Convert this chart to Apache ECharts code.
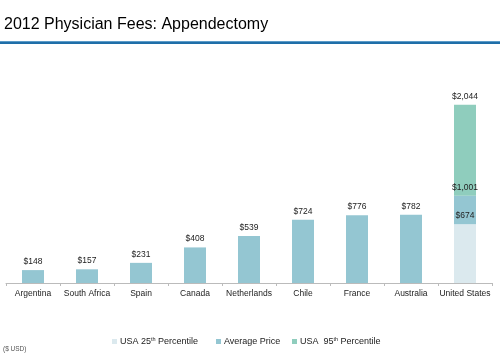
<!DOCTYPE html>
<html><head><meta charset="utf-8">
<script src="https://cdn.jsdelivr.net/npm/echarts@6/dist/echarts.min.js"></script>
<style>html,body{margin:0;padding:0;background:#fff}#c{width:500px;height:357px}</style>
</head><body><div id="c"></div>
<script>
const categories = ['Argentina','South Africa','Spain','Canada','Netherlands','Chile','France','Australia','United States'];
const averagePrice = [148,157,231,408,539,724,776,782,1001];
const usa25th = 674;
const usa95th = 2044;
const seriesNames = ['USA 25th Percentile','Average Price','USA  95th Percentile'];

const n = categories.length;
const usIdx = n - 1;
const s25 = categories.map((c,i)=> i===usIdx ? usa25th : null);
const sAvg = averagePrice.map((v,i)=> i===usIdx ? v - usa25th : v);
const s95 = categories.map((c,i)=> i===usIdx ? usa95th - averagePrice[usIdx] : null);
const totals25 = categories.map((c,i)=> i===usIdx ? usa25th : null);
const totalsAvg = averagePrice.slice();
const totals95 = categories.map((c,i)=> i===usIdx ? usa95th : null);

const fmt = v => '$' + v.toLocaleString('en-US');
const lbl = (tot) => ({show:true, position:'top', distance:4, color:'#222', fontSize:8.5, fontFamily:'Liberation Sans, Arial',
  formatter: p => tot[p.dataIndex]==null ? '' : fmt(tot[p.dataIndex])});

const colors = ['#dbe9ee','#94c6d2','#8fcdbd'];
const rich = {sup:{fontSize:5.5, verticalAlign:'top', padding:[0,0,5,0], color:'#222', fontFamily:'Liberation Sans, Arial'}};
const legendText = {
  'USA 25th Percentile':'USA 25{sup|th} Percentile',
  'Average Price':'Average Price{sup| }',
  'USA  95th Percentile':'USA  95{sup|th} Percentile'
};
const mkLegend = (name, left) => ({
  data:[name], left:left, top:331, icon:'rect', itemWidth:5, itemHeight:5, itemGap:0,
  textStyle:{fontSize:9, color:'#222', fontFamily:'Liberation Sans, Arial', padding:[0,0,0,-2], rich:rich},
  formatter: nm => legendText[nm], selectedMode:false
});

const chart = echarts.init(document.getElementById('c'), null, {renderer:'canvas'});
chart.setOption({
  animation:false,
  color: colors,
  title:{text:'2012 Physician Fees: Appendectomy', left:-1, top:12,
    textStyle:{fontSize:16, fontWeight:'normal', color:'#000', fontFamily:'Liberation Sans, Arial'}},
  graphic:[
    {type:'rect', shape:{x:0,y:41,width:500,height:3}, style:{fill:'#1f6ea8'}},
    {type:'rect', shape:{x:0,y:41,width:500,height:1}, style:{fill:'#5b9bc8'}},
    {type:'text', left:3, top:346, style:{text:'($ USD)', fontSize:6.5, fill:'#555', fontFamily:'Liberation Sans, Arial'}}
  ],
  legend:[ mkLegend(seriesNames[0],107), mkLegend(seriesNames[1],211), mkLegend(seriesNames[2],287) ],
  grid:{left:6, right:8, top:65, bottom:74},
  xAxis:{type:'category', data:categories,
    axisLine:{lineStyle:{color:'#bbbbbb', width:1}},
    axisTick:{show:true, length:3, lineStyle:{color:'#bbbbbb'}},
    axisLabel:{color:'#222', fontSize:8.5, fontFamily:'Liberation Sans, Arial', margin:6, interval:0}},
  yAxis:{type:'value', min:0, max:2500, show:false, splitLine:{show:false}},
  series:[
    {name:seriesNames[0], type:'bar', stack:'s', barWidth:22, data:s25, itemStyle:{color:colors[0]}, label:lbl(totals25)},
    {name:seriesNames[1], type:'bar', stack:'s', barWidth:22, data:sAvg, itemStyle:{color:colors[1]}, label:lbl(totalsAvg)},
    {name:seriesNames[2], type:'bar', stack:'s', barWidth:22, data:s95, itemStyle:{color:colors[2]}, label:lbl(totals95)}
  ]
});
</script></body></html>
